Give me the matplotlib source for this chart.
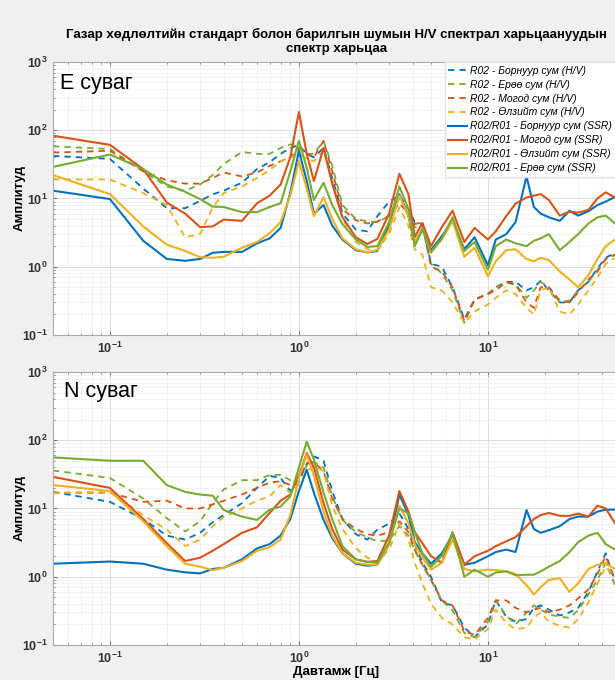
import numpy as np
import matplotlib
matplotlib.use('Agg')
import matplotlib.pyplot as plt
from matplotlib.ticker import LogLocator, NullFormatter

plt.rcParams['font.family'] = ['Liberation Sans', 'DejaVu Sans']
plt.rcParams['mathtext.default'] = 'regular'

# давтамж [Гц]
freq = [0.05, 0.1, 0.15, 0.2, 0.25, 0.3, 0.35, 0.4, 0.5, 0.6, 0.7, 0.8, 0.9, 1.0, 1.1, 1.2,
        1.35, 1.5, 1.7, 2.0, 2.3, 2.6, 3.0, 3.4, 3.8, 4.1, 4.5, 5.0, 5.7, 6.5, 7.5, 8.5,
        10, 11, 12.5, 14, 16, 17.5, 19, 21, 24, 27, 30, 34, 38, 42, 47]

# E суваг - H/V
e_hv_bor = [42, 38, 14, 7.2, 7.2, 9.2, 11.5, 13, 17, 27, 34, 45, 55, 60, 45, 40, 55, 20, 6, 3.5,
            3.3, 5.5, 9, 11, 7, 4.5, 4.2, 1.1, 1.0, 0.5, 0.17, 0.33, 0.4, 0.5, 0.6, 0.6, 0.45,
            0.5, 0.62, 0.45, 0.3, 0.3, 0.45, 0.6, 0.95, 1.35, 1.6]
e_hv_erov = [58, 53, 25, 15, 13, 16, 22, 32, 48, 45, 45, 55, 62, 60, 45, 45, 70, 30, 8, 5.0,
             4.6, 4.5, 5.5, 10, 6.5, 3.8, 3.8, 1.1, 0.8, 0.45, 0.15, 0.33, 0.4, 0.5, 0.58, 0.55,
             0.35, 0.45, 0.6, 0.5, 0.3, 0.32, 0.45, 0.6, 0.9, 1.3, 1.5]
e_hv_mog = [47, 50, 25, 18.5, 16.5, 16.5, 20, 24, 21, 24, 30, 35, 40, 55, 45, 40, 70, 25, 7, 4.8,
            4.3, 4.6, 5.5, 8.5, 6.0, 4.2, 4.5, 1.0, 0.85, 0.5, 0.16, 0.33, 0.4, 0.45, 0.6, 0.55,
            0.3, 0.25, 0.5, 0.5, 0.32, 0.3, 0.42, 0.65, 0.85, 1.3, 1.5]
e_hv_olz = [19, 19, 12, 8, 2.7, 3.0, 7.4, 12, 15, 20, 26, 35, 40, 45, 38, 35, 50, 18, 5, 2.3,
            1.8, 1.75, 3, 7.4, 4, 1.8, 1.5, 0.5, 0.45, 0.3, 0.15, 0.22, 0.28, 0.35, 0.45, 0.4,
            0.25, 0.2, 0.45, 0.5, 0.22, 0.2, 0.28, 0.45, 0.7, 1.1, 1.35]

# E суваг - SSR
e_ssr_bor = [13, 9.8, 2.4, 1.3, 1.22, 1.3, 1.6, 1.65, 1.65, 2.2, 2.6, 3.7, 12, 50, 18, 6.0, 8.0,
             4.0, 2.5, 1.75, 1.62, 1.7, 4.0, 11.5, 5.5, 2.1, 3.5, 1.75, 2.8, 4.7, 1.8, 2.7, 1.05,
             2.5, 3.0, 4.5, 21, 7.5, 6.0, 5.3, 4.7, 6.6, 5.6, 6.5, 8, 9, 10.5]
e_ssr_mog = [83, 61, 27, 8.7, 6.0, 3.8, 3.9, 4.9, 4.7, 8.5, 11, 16, 40, 185, 45, 18, 55, 16.4,
             5.3, 2.7, 2.15, 2.55, 6.0, 23, 11.5, 2.7, 4.4, 2.0, 3.8, 6.6, 2.3, 3.7, 2.5, 3.3,
             5.5, 8.4, 10.3, 11, 11.6, 9.5, 5.6, 6.4, 6.2, 6.8, 10, 12.3, 10.3]
e_ssr_olz = [22, 11.6, 3.9, 2.1, 1.7, 1.38, 1.35, 1.4, 1.9, 2.3, 3.1, 4.5, 11, 35, 14, 5.5, 10.5,
             5.0, 2.6, 1.8, 1.62, 1.75, 3.5, 11, 5.5, 2.3, 3.6, 1.6, 2.5, 4.7, 1.4, 1.9, 0.72,
             1.2, 1.75, 1.8, 1.3, 1.2, 1.35, 1.25, 0.85, 0.65, 0.5, 0.75, 1.3, 2.0, 2.5]
e_ssr_erov = [29, 44, 27, 16, 12.5, 9.8, 7.6, 7.5, 6.3, 6.3, 7.5, 8.5, 25, 70, 28, 9.5, 17, 8,
              4.2, 2.5, 1.95, 2.0, 4.5, 15, 7, 2.0, 3.6, 1.65, 2.6, 5.3, 1.7, 2.3, 0.9, 2.0,
              2.5, 2.2, 2.0, 2.4, 2.6, 3.0, 1.75, 2.3, 3.0, 4.3, 5.3, 5.6, 4.3]

# N суваг - H/V
n_hv_bor = [17.5, 12.5, 7, 4.0, 3.5, 4.4, 6.3, 8.0, 12, 20, 30, 28, 18, 25, 45, 58, 50, 18, 7,
            4.2, 3.5, 4.9, 6.0, 8.5, 5, 3.0, 1.6, 1.0, 0.42, 0.38, 0.18, 0.13, 0.2, 0.45, 0.26,
            0.22, 0.24, 0.35, 0.38, 0.33, 0.27, 0.3, 0.35, 0.6, 1.2, 2.2, 0.85]
n_hv_erov = [36, 28, 14, 7.2, 4.6, 6.5, 12, 19, 26, 26, 31, 31, 26, 30, 42, 48, 40, 15, 6.8, 4.5,
             3.8, 3.3, 3.4, 5.5, 4, 2.4, 1.5, 0.9, 0.45, 0.32, 0.15, 0.13, 0.22, 0.45, 0.27, 0.2,
             0.3, 0.38, 0.33, 0.28, 0.26, 0.25, 0.32, 0.55, 0.9, 1.6, 0.75]
n_hv_mog = [17, 17, 12.5, 13, 10, 10, 11.5, 13, 16, 20, 24, 25, 22, 28, 45, 48, 35, 14, 7, 5.0,
            4.2, 4.0, 4.5, 6.5, 4.5, 2.5, 1.5, 0.9, 0.45, 0.38, 0.16, 0.14, 0.25, 0.45, 0.45,
            0.35, 0.3, 0.33, 0.35, 0.3, 0.33, 0.38, 0.48, 0.65, 1.1, 2.0, 0.9]
n_hv_olz = [17, 17.5, 8, 4.9, 2.8, 3.5, 5.5, 7.5, 10, 13, 15, 22, 17, 22, 35, 42, 35, 11, 5, 2.6,
            1.9, 1.65, 2.5, 6, 3.5, 1.6, 0.8, 0.4, 0.25, 0.2, 0.13, 0.12, 0.17, 0.33, 0.21,
            0.17, 0.18, 0.25, 0.3, 0.22, 0.19, 0.18, 0.24, 0.42, 0.8, 1.4, 1.0]

# N суваг - SSR
n_ssr_bor = [1.55, 1.67, 1.55, 1.27, 1.16, 1.12, 1.3, 1.35, 1.8, 2.6, 3.0, 4.0, 7, 18, 37, 17,
             6.8, 3.7, 2.2, 1.55, 1.45, 1.5, 3.0, 16, 8, 3.2, 2.2, 1.55, 2.2, 4.1, 1.5, 1.6,
             2.0, 2.3, 2.5, 2.3, 9.5, 5, 4.4, 4.8, 5.5, 7, 7.6, 7.6, 9, 9.6, 9.6]
n_ssr_mog = [29, 20, 7, 3.1, 1.7, 1.9, 2.4, 3.0, 4.4, 5.3, 8.6, 13, 16, 30, 65, 40, 12, 5, 2.5,
             1.8, 1.65, 1.7, 4, 18, 9, 4.5, 3.1, 2.0, 1.6, 4.5, 1.5, 2.0, 2.4, 2.8, 3.3, 3.8,
             5.5, 7, 8, 8.6, 7.8, 7.8, 8.4, 7.6, 11, 10, 6.1]
n_ssr_olz = [22, 18, 6.5, 2.8, 1.55, 1.4, 1.25, 1.35, 1.7, 2.4, 2.7, 3.5, 8, 28, 62, 30, 9, 4.0,
             2.2, 1.6, 1.5, 1.5, 3.0, 11, 6, 3.0, 1.9, 1.27, 1.6, 3.5, 1.3, 1.2, 1.27, 1.25,
             1.2, 1.1, 0.75, 0.55, 0.7, 0.9, 0.95, 0.6, 0.8, 1.3, 1.5, 1.55, 1.3]
n_ssr_erov = [56, 50, 50, 22, 17.5, 16, 15.4, 9.5, 7.6, 6.8, 9.6, 10.7, 15, 40, 95, 52, 17, 7,
              2.8, 1.8, 1.65, 1.6, 3.2, 10, 8.5, 4.5, 2.2, 1.4, 2.0, 4.4, 1.0, 1.27, 1.0, 1.15,
              1.2, 1.05, 1.07, 1.07, 1.2, 1.4, 1.7, 2.3, 3.2, 4.0, 4.4, 3.0, 2.5]

blue, red, yellow, green = '#0072BD', '#D95319', '#EDB120', '#77AC30'

hv_names = ['Борнуур сум', 'Ерөө сум', 'Могод сум', 'Өлзийт сум']
hv_colors = [blue, green, red, yellow]
ssr_names = ['Борнуур сум', 'Могод сум', 'Өлзийт сум', 'Ерөө сум']
ssr_colors = [blue, red, yellow, green]


def draw_panel(ax, hv, ssr, channel, tx, ty):
    for vals, name, c in zip(hv, hv_names, hv_colors):
        ax.plot(freq, vals, color=c, lw=1.3, ls=(0, (3.5, 2.8)),
                label='R02 - ' + name + ' (H/V)')
    for vals, name, c in zip(ssr, ssr_names, ssr_colors):
        ax.plot(freq, vals, color=c, lw=1.5, label='R02/R01 - ' + name + ' (SSR)')

    ax.set_xscale('log')
    ax.set_yscale('log')
    ax.set_xlim(0.05, 50)
    ax.set_ylim(0.1, 1000)
    ax.set_xticks([0.1, 1, 10], ['$10^{-1}$', '$10^{0}$', '$10^{1}$'],
                  fontweight='bold', fontsize=9, color='#333333')
    ax.set_yticks([0.1, 1, 10, 100, 1000],
                  ['$10^{-1}$', '$10^{0}$', '$10^{1}$', '$10^{2}$', '$10^{3}$'],
                  fontweight='bold', fontsize=9, color='#333333')
    ax.xaxis.set_minor_locator(LogLocator(base=10, subs=np.arange(2, 10), numticks=20))
    ax.yaxis.set_minor_locator(LogLocator(base=10, subs=np.arange(2, 10), numticks=20))
    ax.xaxis.set_minor_formatter(NullFormatter())
    ax.yaxis.set_minor_formatter(NullFormatter())
    ax.tick_params(which='both', direction='in', top=True, right=True, color='#777777')
    ax.tick_params(which='major', length=3, pad=4)
    ax.tick_params(which='minor', length=1.5)
    ax.grid(True, which='major', color='#dddddd', lw=0.7)
    ax.grid(True, which='minor', color='#eeeeee', lw=0.5)
    ax.set_axisbelow(True)
    for s in ax.spines.values():
        s.set_color('#aaaaaa')
        s.set_linewidth(0.8)
    ax.set_ylabel('Амплитуд', fontweight='bold', fontsize=9.5, labelpad=-3)
    ax.text(tx, ty, channel, transform=ax.transAxes, fontsize=15.5, va='center')


fig = plt.figure(figsize=(6.15, 6.8), dpi=100, facecolor='#f0f0f0')
ax_e = fig.add_axes([0.0862, 0.5074, 0.922, 0.4015])
ax_n = fig.add_axes([0.0862, 0.0515, 0.922, 0.4015])

draw_panel(ax_e, [e_hv_bor, e_hv_erov, e_hv_mog, e_hv_olz],
           [e_ssr_bor, e_ssr_mog, e_ssr_olz, e_ssr_erov], 'E суваг', 0.012, 0.92)
draw_panel(ax_n, [n_hv_bor, n_hv_erov, n_hv_mog, n_hv_olz],
           [n_ssr_bor, n_ssr_mog, n_ssr_olz, n_ssr_erov], 'N суваг', 0.02, 0.93)

ax_e.set_title('Газар хөдлөлтийн стандарт болон барилгын шумын H/V спектрал харьцаануудын\n'
               'спектр харьцаа', fontweight='bold', fontsize=9.5, pad=7)
ax_n.set_xlabel('Давтамж [Гц]', fontweight='bold', fontsize=9.5, labelpad=0)

ax_e.legend(loc='upper left', bbox_to_anchor=(0.691, 1.0), borderaxespad=0,
            prop={'style': 'italic', 'size': 7.5}, handlelength=1.8, handletextpad=0.3,
            labelspacing=0.38, borderpad=0.35, fancybox=False, edgecolor='#e4e4e4',
            facecolor='white', framealpha=1)

fig.savefig('out.png', dpi=100, facecolor=fig.get_facecolor())
